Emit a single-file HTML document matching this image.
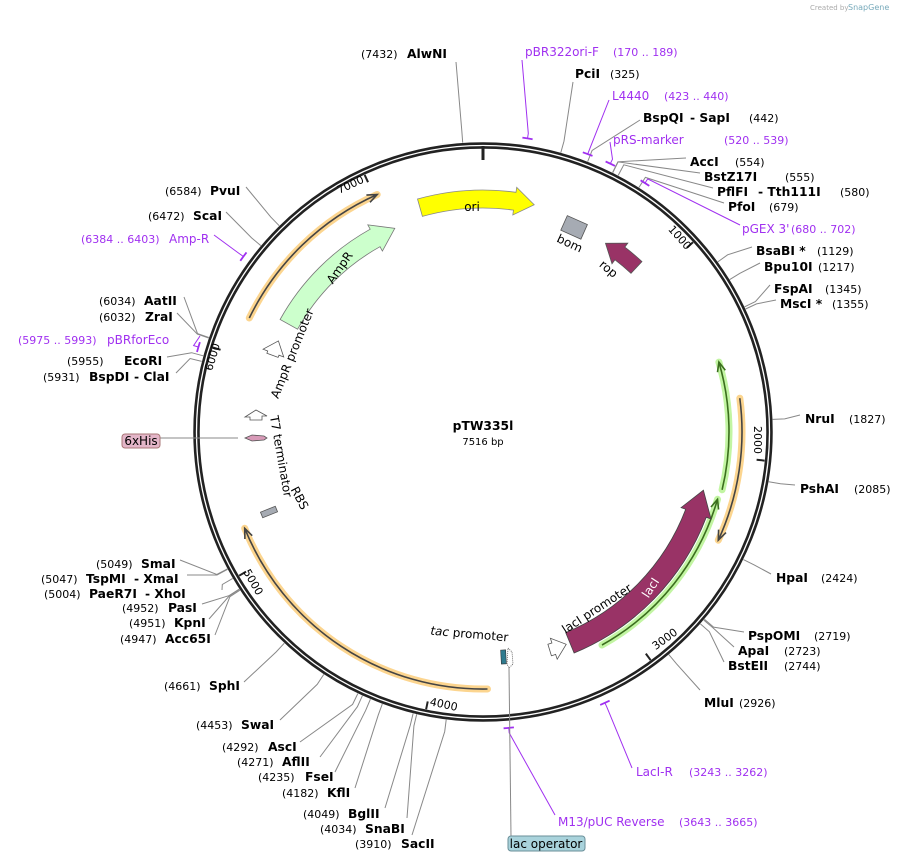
<!DOCTYPE html>
<html><head><meta charset="utf-8"><style>
html,body{margin:0;padding:0;background:#fff;}
svg{display:block;font-family:"DejaVu Sans","Liberation Sans",sans-serif;font-size:11px;}
.b{font-weight:bold;font-size:12.3px;}
.p{fill:#a030f0;}
</style></head><body>
<svg id="s" width="907" height="862" viewBox="0 0 907 862" xmlns="http://www.w3.org/2000/svg">
<g id="shapes"></g>
<text x="810" y="10" font-size="7" fill="#aaa">Created by</text><text x="848" y="10" font-size="8" fill="#7ab">SnapGene</text>
<text x="483" y="430" text-anchor="middle" class="b" font-size="13">pTW335l</text>
<text x="483" y="445" text-anchor="middle" font-size="10">7516 bp</text>
<text transform="translate(677,240) rotate(48)" text-anchor="middle" font-size="11">1000</text>
<text transform="translate(754,440) rotate(90)" text-anchor="middle" font-size="11">2000</text>
<text transform="translate(667,642) rotate(-36)" text-anchor="middle" font-size="11">3000</text>
<text transform="translate(443,708) rotate(12)" text-anchor="middle" font-size="11">4000</text>
<text transform="translate(250,584) rotate(60)" text-anchor="middle" font-size="11">5000</text>
<text transform="translate(216,358) rotate(-73)" text-anchor="middle" font-size="11">6000</text>
<text transform="translate(352,188) rotate(-25)" text-anchor="middle" font-size="11">7000</text>
<text x="472" y="211" text-anchor="middle" font-size="12">ori</text>
<text transform="translate(568,247) rotate(25)" text-anchor="middle" font-size="12">bom</text>
<text transform="translate(606,272) rotate(40)" text-anchor="middle" font-size="12">rop</text>
<text transform="translate(343,270) rotate(-55)" text-anchor="middle" font-size="12">AmpR</text>
<text transform="translate(296,355) rotate(-68)" text-anchor="middle" font-size="12">AmpR promoter</text>
<text transform="translate(277,457) rotate(80)" text-anchor="middle" font-size="12">T7 terminator</text>
<text transform="translate(296,500) rotate(62)" text-anchor="middle" font-size="12">RBS</text>
<text transform="translate(599,612) rotate(-33)" text-anchor="middle" font-size="12">lacI promoter</text>
<text transform="translate(469,638) rotate(5)" text-anchor="middle" font-size="12"><tspan font-style="italic">tac</tspan> promoter</text>
<text transform="translate(654,590) rotate(-57)" text-anchor="middle" font-size="12" fill="#fff">lacI</text>
<text x="361" y="58">(7432)</text><text x="407" y="58" class="b">AlwNI</text>
<text x="525" y="56" class="p" font-size="12">pBR322ori-F</text><text x="613" y="56" class="p">(170 .. 189)</text>
<text x="575" y="78" class="b">PciI</text><text x="610" y="78">(325)</text>
<text x="612" y="100" class="p" font-size="12">L4440</text><text x="664" y="100" class="p">(423 .. 440)</text>
<text x="643" y="122" class="b">BspQI</text><text x="690" y="122" class="b">- SapI</text><text x="749" y="122">(442)</text>
<text x="613" y="144" class="p" font-size="12">pRS-marker</text><text x="724" y="144" class="p">(520 .. 539)</text>
<text x="690" y="166" class="b">AccI</text><text x="735" y="166">(554)</text>
<text x="704" y="181" class="b">BstZ17I</text><text x="785" y="181">(555)</text>
<text x="717" y="196" class="b">PflFI</text><text x="758" y="196" class="b">- Tth111I</text><text x="840" y="196">(580)</text>
<text x="728" y="211" class="b">PfoI</text><text x="769" y="211">(679)</text>
<text x="742" y="233" class="p" font-size="12">pGEX 3'</text><text x="791" y="233" class="p">(680 .. 702)</text>
<text x="756" y="255" class="b">BsaBI *</text><text x="817" y="255">(1129)</text>
<text x="764" y="271" class="b">Bpu10I</text><text x="818" y="271">(1217)</text>
<text x="774" y="293" class="b">FspAI</text><text x="825" y="293">(1345)</text>
<text x="780" y="308" class="b">MscI *</text><text x="832" y="308">(1355)</text>
<text x="805" y="423" class="b">NruI</text><text x="849" y="423">(1827)</text>
<text x="800" y="493" class="b">PshAI</text><text x="854" y="493">(2085)</text>
<text x="776" y="582" class="b">HpaI</text><text x="821" y="582">(2424)</text>
<text x="748" y="640" class="b">PspOMI</text><text x="814" y="640">(2719)</text>
<text x="738" y="655" class="b">ApaI</text><text x="784" y="655">(2723)</text>
<text x="728" y="670" class="b">BstEII</text><text x="784" y="670">(2744)</text>
<text x="704" y="707" class="b">MluI</text><text x="739" y="707">(2926)</text>
<text x="636" y="776" class="p" font-size="12">LacI-R</text><text x="689" y="776" class="p">(3243 .. 3262)</text>
<text x="558" y="826" class="p" font-size="12">M13/pUC Reverse</text><text x="679" y="826" class="p">(3643 .. 3665)</text>
<rect x="508" y="836" width="77" height="15" rx="3" fill="#a9d3dc" stroke="#6a8f99"/>
<text x="546" y="848" text-anchor="middle" font-size="12">lac operator</text>
<text x="355" y="848">(3910)</text><text x="401" y="848" class="b">SacII</text>
<text x="320" y="833">(4034)</text><text x="365" y="833" class="b">SnaBI</text>
<text x="303" y="818">(4049)</text><text x="348" y="818" class="b">BglII</text>
<text x="282" y="797">(4182)</text><text x="327" y="797" class="b">KflI</text>
<text x="258" y="781">(4235)</text><text x="305" y="781" class="b">FseI</text>
<text x="237" y="766">(4271)</text><text x="282" y="766" class="b">AflII</text>
<text x="222" y="751">(4292)</text><text x="268" y="751" class="b">AscI</text>
<text x="196" y="729">(4453)</text><text x="241" y="729" class="b">SwaI</text>
<text x="164" y="690">(4661)</text><text x="209" y="690" class="b">SphI</text>
<text x="120" y="643">(4947)</text><text x="165" y="643" class="b">Acc65I</text>
<text x="129" y="627">(4951)</text><text x="174" y="627" class="b">KpnI</text>
<text x="122" y="612">(4952)</text><text x="168" y="612" class="b">PasI</text>
<text x="44" y="598">(5004)</text><text x="89" y="598" class="b">PaeR7I</text><text x="145" y="598" class="b">- XhoI</text>
<text x="41" y="583">(5047)</text><text x="86" y="583" class="b">TspMI</text><text x="134" y="583" class="b">- XmaI</text>
<text x="96" y="568">(5049)</text><text x="141" y="568" class="b">SmaI</text>
<text x="43" y="381">(5931)</text><text x="89" y="381" class="b">BspDI</text><text x="134" y="381" class="b">- ClaI</text>
<text x="67" y="365">(5955)</text><text x="124" y="365" class="b">EcoRI</text>
<text x="18" y="344" class="p">(5975 .. 5993)</text><text x="107" y="344" class="p" font-size="12">pBRforEco</text>
<text x="99" y="321">(6032)</text><text x="145" y="321" class="b">ZraI</text>
<text x="99" y="305">(6034)</text><text x="144" y="305" class="b">AatII</text>
<text x="81" y="243" class="p">(6384 .. 6403)</text><text x="169" y="243" class="p" font-size="12">Amp-R</text>
<text x="148" y="220">(6472)</text><text x="193" y="220" class="b">ScaI</text>
<text x="165" y="195">(6584)</text><text x="210" y="195" class="b">PvuI</text>
<rect x="122" y="434" width="38" height="14" rx="3" fill="#e3b5c8" stroke="#a77"/>
<text x="141" y="445" text-anchor="middle" font-size="12">6xHis</text>
</svg>
<script>
var CX=483,CY=432,N=7516,NS="http://www.w3.org/2000/svg",G=document.getElementById('shapes');
function P(r,a){a=a*Math.PI/180;return [CX+r*Math.sin(a),CY-r*Math.cos(a)];}
function f(p){return p[0].toFixed(1)+','+p[1].toFixed(1);}
function add(tag,at){var e=document.createElementNS(NS,tag);for(var k in at)e.setAttribute(k,at[k]);G.appendChild(e);return e;}
function arc(r,a1,a2){var s=P(r,a1),e=P(r,a2),l=Math.abs(a2-a1)>180?1:0,sw=a2>a1?1:0;return 'M'+f(s)+' A'+r+','+r+' 0 '+l+' '+sw+' '+f(e);}
function arcTo(r,a1,a2){var e=P(r,a2),l=Math.abs(a2-a1)>180?1:0,sw=a2>a1?1:0;return ' A'+r+','+r+' 0 '+l+' '+sw+' '+f(e);}
function feat(r,w,a1,a2,tipAt2,fill,stroke){
 var hd=(w*1.1)/r*180/Math.PI, ro=r+w/2, ri=r-w/2, hw=w/2+5, d;
 if(tipAt2){var b=a2-hd;
  d='M'+f(P(ro,a1))+arcTo(ro,a1,b)+' L'+f(P(r+hw,b))+' L'+f(P(r,a2))+' L'+f(P(r-hw,b))+' L'+f(P(ri,b))+arcTo(ri,b,a1)+' Z';}
 else{var b=a1+hd;
  d='M'+f(P(ro,a2))+arcTo(ro,a2,b)+' L'+f(P(r+hw,b))+' L'+f(P(r,a1))+' L'+f(P(r-hw,b))+' L'+f(P(ri,b))+arcTo(ri,b,a2)+' Z';}
 add('path',{d:d,fill:fill,stroke:stroke,'stroke-width':0.8});
}
function orf(r,a1,a2,tipAt2,glow,line){
 add('path',{d:arc(r,a1,a2),fill:'none',stroke:glow,'stroke-width':7,'stroke-linecap':'round'});
 add('path',{d:arc(r,a1,a2),fill:'none',stroke:line,'stroke-width':1.6});
 var t=tipAt2?a2:a1, bk=tipAt2?a2-2.2:a1+2.2;
 add('path',{d:'M'+f(P(r+4,bk))+' L'+f(P(r,t))+' L'+f(P(r-4,bk)),fill:'none',stroke:line,'stroke-width':1.6});
}
add('circle',{cx:CX,cy:CY,r:286.5,fill:'none',stroke:'#222','stroke-width':6.5});
add('circle',{cx:CX,cy:CY,r:286.5,fill:'none',stroke:'#fff','stroke-width':1.3});
add('line',{x1:483,y1:146,x2:483,y2:160,stroke:'#222','stroke-width':3});
for(var k=1;k<=7;k++){var a=k*1000/N*360;add('line',{x1:P(283,a)[0],y1:P(283,a)[1],x2:P(275,a)[0],y2:P(275,a)[1],stroke:'#222','stroke-width':2});}
var C=[[7432,456,62],[325,573,82],[442,640,120],[554,686,158],[555,700,173],[580,713,188],[679,724,203],
[1129,752,247],[1217,760,263],[1345,770,285],[1355,776,300],[1827,800,415],[2085,795,485],[2424,771,574],
[2719,744,632],[2723,734,647],[2744,724,662],[2926,700,690],[3910,412,835],[4034,407,818],[4049,385,808],
[4182,355,788],[4235,335,772],[4271,320,757],[4292,300,742],[4453,280,720],[4661,244,682],[4947,215,635],
[4951,209,619],[4952,202,604],[5004,222,590],[5047,187,575],[5049,180,560],[5931,176,373],[5955,167,357],
[6032,177,313],[6034,184,297],[6472,226,212],[6584,246,187]];
C.forEach(function(c){var a=c[0]/N*360,p=P(290,a),q=P(302,a);add('polyline',{points:f(p)+' '+f(q)+' '+c[1]+','+c[2],fill:'none',stroke:'#888','stroke-width':1});});
var PC=[[180,522,60],[431,609,100],[530,610,142],[690,740,225],[3252,632,768],[3654,555,815],[5984,200,336],[6393,214,235]];
PC.forEach(function(c){var a=c[0]/N*360,p=P(297,a),q=P(302,a);
 add('path',{d:arc(297,a-1,a+1),fill:'none',stroke:'#a030f0','stroke-width':1.8});
 add('polyline',{points:f(p)+' '+f(q)+' '+c[1]+','+c[2],fill:'none',stroke:'#a030f0','stroke-width':1});});
add('line',{x1:509,y1:668,x2:511,y2:836,stroke:'#888','stroke-width':1});
add('line',{x1:160,y1:438,x2:238,y2:438,stroke:'#888','stroke-width':1});
orf(260,-64,-24,true,'#fcd58f','#444');
orf(257,179,248,true,'#fcd58f','#444');
orf(259,82.5,114.7,true,'#fcd58f','#444');
orf(246,73.5,103.6,false,'#c2f5a2','#3b6e1e');
orf(244,106,150.8,false,'#c2f5a2','#3b6e1e');
feat(233,18,-15.7,12.7,true,'#ffff00','#888');
feat(222,20,-61,-23.4,true,'#ccffcc','#777');
feat(225,16,33,43,false,'#993366','#555');
feat(228,22,104.8,157.6,false,'#993366','#444');
feat(224,12,-70,-66,true,'#ffffff','#555');
feat(228,12,158.6,163,false,'#ffffff','#555');
var bp=P(224,24);add('rect',{x:-11,y:-8,width:22,height:16,fill:'#a6abb3',stroke:'#555','stroke-width':0.8,transform:'translate('+f(bp)+') rotate(24)'});
add('rect',{x:-8,y:-3,width:16,height:6,fill:'#a6abb3',stroke:'#555','stroke-width':0.8,transform:'translate(269,512) rotate(-22)'});
add('path',{d:'M245,438 L252,435 L264,436 L267,438 L264,440 L252,441 Z',fill:'#d89ab8',stroke:'#555','stroke-width':0.8});
add('path',{d:'M245,417 L256,410 L267,416 L262,416 L262,420 L250,420 L250,417 Z',fill:'#fff',stroke:'#555','stroke-width':0.8});
add('rect',{x:501,y:650,width:5,height:14,fill:'#2f7b8f',stroke:'#333','stroke-width':0.6,transform:'rotate(-3 503 657)'});
add('path',{d:'M508,648 L512,652 L513,664 L509,668 L507,664 Z',fill:'#fff',stroke:'#555','stroke-width':0.8,'stroke-dasharray':'1,1'});
</script>
</body></html>
